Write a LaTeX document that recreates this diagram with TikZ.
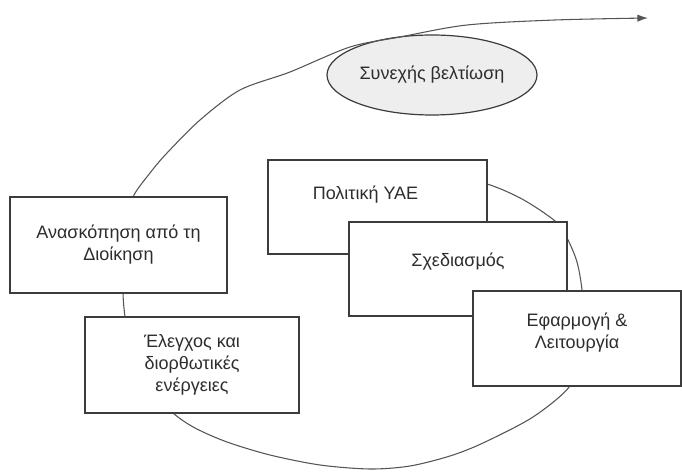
\documentclass[tikz,border=0pt]{standalone}
\usepackage{fontspec}
\setmainfont{Liberation Sans}
\usetikzlibrary{shapes.geometric, arrows.meta}
\definecolor{linegray}{RGB}{60, 60, 60}
\definecolor{loopgray}{RGB}{85, 85, 85}
\definecolor{textgray}{RGB}{45, 45, 45}
\definecolor{ovalfill}{RGB}{238, 238, 238}

\begin{document}
\begin{tikzpicture}[x=0.75pt, y=-0.75pt,
  stagebox/.style={draw=linegray, line width=1pt, fill=white, align=center, inner sep=0pt,
    text=textgray, font=\fontsize{13.5}{16.5}\selectfont},
  oval/.style={ellipse, draw=linegray, line width=0.9pt, fill=ovalfill, inner sep=0pt,
    minimum width=157.5pt, minimum height=60pt, text=textgray, font=\fontsize{13.5}{16.5}\selectfont},
  loopline/.style={draw=loopgray, line width=0.8pt}]
  \useasboundingbox (0,0) rectangle (682,473);

  \node[oval] (improve) at (432,75) {Συνεχής βελτίωση};

  \draw[loopline, -{Latex[length=8pt, width=5.5pt]}] plot[smooth, tension=0.5] coordinates {
    (450,178) (487,184) (522,199) (555,221) (567,238) (577,262) (582,290) (583,320)
    (578,355) (570,386) (533,417) (483,443) (450,456) (410,466) (370,469) (320,465)
    (270,455) (227,442) (195,428) (173,413) (145,385) (130,350) (125,317) (123,293)
    (124,260) (127,225) (133,197) (150,173) (167,153) (200,120) (240,90) (290,72)
    (350,47) (400,37) (467,25) (555,20) (648,18)};

  \node[stagebox, minimum width=164.25pt, minimum height=70.5pt, text depth=21pt] (policy) at (377.5,207) {Πολιτική ΥΑΕ\hspace*{18pt}};
  \node[stagebox, minimum width=163.5pt, minimum height=70.5pt, text depth=13.5pt] (planning) at (458,269) {Σχεδιασμός};
  \node[stagebox, minimum width=156pt, minimum height=71.25pt, text depth=12pt] (operation) at (577,338.5) {Εφαρμογή \&\\Λειτουργία};
  \node[stagebox, minimum width=162.75pt, minimum height=72pt] (review) at (118.5,245) {Ανασκόπηση από τη\\Διοίκηση};
  \node[stagebox, minimum width=160.5pt, minimum height=72pt] (checking) at (192,365) {Έλεγχος και\\διορθωτικές\\ενέργειες};
\end{tikzpicture}
\end{document}
